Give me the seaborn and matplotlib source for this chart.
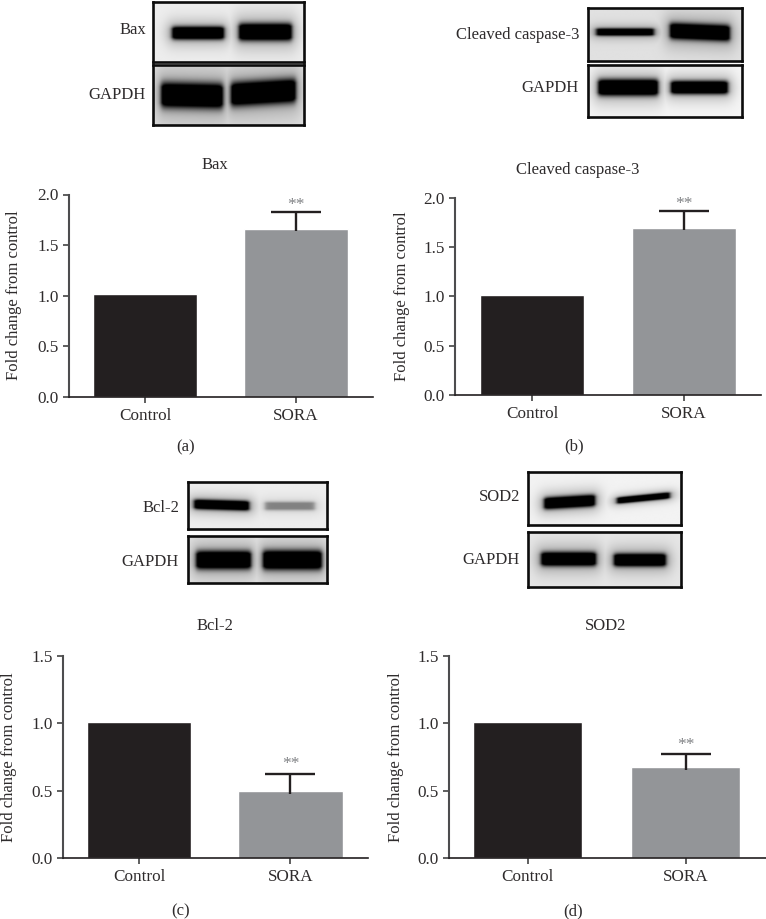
import numpy as np
import pandas as pd
import matplotlib
matplotlib.use('Agg')
import matplotlib.pyplot as plt
import seaborn as sns

W, H = 766, 919

# values
groups = ['Control', 'SORA']
bax_means = [1.015, 1.66]
bax_err = 1.825 - 1.66
caspase_means = [1.015, 1.69]
caspase_err = 1.87 - 1.69
bcl2_means = [1.01, 0.495]
bcl2_err = 0.625 - 0.495
sod2_means = [1.01, 0.672]
sod2_err = 0.77 - 0.672

ticks_high = [0.0, 0.5, 1.0, 1.5, 2.0]
ticks_low = [0.0, 0.5, 1.0, 1.5]

sns.set_style('ticks')
plt.rcParams['font.family'] = ['Liberation Serif', 'DejaVu Serif']

INK = '#2e2b2c'
BAR_COLORS = {'Control': '#231f20', 'SORA': '#939598'}


def px_axes(fig, x0, y0, x1, y1):
    # pixel box, y measured from the top of the picture
    return fig.add_axes([x0 / W, 1 - y1 / H, (x1 - x0) / W, (y1 - y0) / H])


def px_text(fig, x, y, s, size=12, **kw):
    kw.setdefault('ha', 'center')
    kw.setdefault('va', 'center')
    kw.setdefault('color', INK)
    fig.text(x / W, 1 - y / H, s, fontsize=size, **kw)


def draw_bars(fig, box, xticks_px, means, err, yticks, err_gap):
    x0, y0, x1, y1 = box
    ax = px_axes(fig, x0, y0, x1, y1)
    df = pd.DataFrame({'group': groups, 'fold': means})
    sns.barplot(data=df, x='group', y='fold', hue='group', palette=BAR_COLORS,
                order=groups, width=0.69, saturation=1, legend=False, ax=ax)
    step = xticks_px[1] - xticks_px[0]
    ax.set_xlim((x0 - xticks_px[0]) / step, (x1 - xticks_px[0]) / step)
    ax.set_ylim(0, yticks[-1])
    ax.set_yticks(yticks)
    ax.set_yticklabels(['%.1f' % t for t in yticks])
    ax.set_xlabel('')
    ax.set_ylabel('')
    ax.patch.set_alpha(0)

    eb = ax.errorbar([1], [means[1]], yerr=[[0.02], [err]], color='#231f20',
                     elinewidth=1.7, capsize=18, capthick=1.7, zorder=5)
    eb[1][0].set_visible(False)
    # stars sit just above the cap
    ax.annotate('**', (1, means[1] + err), xytext=(0, err_gap),
                textcoords='offset points', ha='center', va='center',
                fontsize=12.5, color='#808285', annotation_clip=False)

    sns.despine(ax=ax)
    ax.spines['left'].set_linewidth(1.5)
    ax.spines['left'].set_color('#4d4d4f')
    ax.spines['bottom'].set_linewidth(1.2)
    ax.spines['bottom'].set_color('#231f20')
    ax.tick_params(axis='both', length=4, width=1.1, color='#333333',
                   labelsize=12.3, labelcolor=INK)
    ax.tick_params(axis='x', pad=4)
    return ax


def draw_blot(fig, box, bands, background):
    x0, y0, x1, y1 = box
    ax = px_axes(fig, x0, y0, x1, y1)
    xs = np.arange(x0, x1 + 0.5, 0.5)
    ys = np.arange(y0, y1 + 0.5, 0.5)
    X, Y = np.meshgrid(xs, ys)
    dark = np.zeros_like(X)
    for bx0, bx1, yc, h, amp, slope in bands:
        centre = yc + slope * (X - (bx0 + bx1) / 2)
        across = 0.25 * (1 + np.tanh((X - bx0) / 2.5)) * (1 - np.tanh((X - bx1) / 2.5))
        wide = 0.25 * (1 + np.tanh((X - bx0 + 5) / 7)) * (1 - np.tanh((X - bx1 - 5) / 7))
        core = np.minimum(1, 1.5 * np.exp(-np.abs((Y - centre) / (h / 2)) ** 2.5))
        halo = np.exp(-((Y - centre) / (h * 1.15)) ** 2)
        dark = np.maximum(dark, amp * (across * core + 0.3 * wide * halo))
    img = np.clip(background * (1 - dark), 0, 1)
    ax.imshow(img, cmap='gray', vmin=0, vmax=1, aspect='auto',
              extent=[x0, x1, y1, y0], interpolation='bilinear')
    ax.set_xticks([])
    ax.set_yticks([])
    for side in ax.spines.values():
        side.set_linewidth(1.9)
        side.set_color('#0c0c0c')
    return ax


fig = plt.figure(figsize=(W / 100, H / 100), dpi=100)
fig.patch.set_facecolor('white')

# bar panels
draw_bars(fig, (69, 194.5, 373, 397), (145, 296), bax_means, bax_err, ticks_high, 5)
draw_bars(fig, (455, 198, 761, 394.7), (532, 684), caspase_means, caspase_err, ticks_high, 4.8)
draw_bars(fig, (63, 655.6, 368, 858), (139, 290.5), bcl2_means, bcl2_err, ticks_low, 7)
draw_bars(fig, (449, 655.6, 765.5, 858), (527.7, 685.7), sod2_means, sod2_err, ticks_low, 6.5)

# blots (x0, x1, y centre, height, darkness, tilt per band)
draw_blot(fig, (153, 2, 304, 62), [(172, 224, 33, 12, 1.0, 0), (239, 292, 32, 16, 1.0, 0)], 0.93)
draw_blot(fig, (153, 65, 304, 125), [(161, 223, 96, 23, 1.0, 0.02), (231, 296, 93, 22, 1.0, -0.06)], 0.88)
draw_blot(fig, (588, 8, 742, 61), [(596, 654, 32, 7, 0.9, 0), (670, 730, 32, 15, 1.0, 0.04)], 0.88)
draw_blot(fig, (588, 65, 742, 117), [(598, 658, 88, 15, 1.0, 0), (671, 728, 88, 12, 1.0, 0)], 0.96)
draw_blot(fig, (188, 482, 327, 529), [(194, 249, 505, 9, 1.0, 0.03), (265, 315, 506, 8, 0.35, 0)], 0.93)
draw_blot(fig, (188, 536, 327, 583), [(196, 251, 560, 17, 1.0, 0), (263, 322, 560, 18, 1.0, 0)], 0.9)
draw_blot(fig, (528, 472, 681, 525), [(544, 595, 502, 11, 1.0, -0.06), (617, 670, 498, 6, 0.95, -0.1)], 0.95)
draw_blot(fig, (528, 532, 681, 587), [(541, 596, 559, 13, 1.0, 0), (614, 666, 560, 12, 1.0, 0)], 0.9)

# blot labels
for x, y, s in [(146, 30, 'Bax'), (146, 95, 'GAPDH'),
                (579, 35, 'Cleaved caspase-3'), (579, 88, 'GAPDH'),
                (179, 508, 'Bcl-2'), (179, 562, 'GAPDH'),
                (520, 497, 'SOD2'), (520, 560, 'GAPDH')]:
    px_text(fig, x, y, s, ha='right')

# panel titles
for x, y, s in [(215, 165, 'Bax'), (578, 170, 'Cleaved caspase-3'),
                (215, 626, 'Bcl-2'), (606, 626, 'SOD2')]:
    px_text(fig, x, y, s)

# y axis titles
for x, y in [(14, 295), (402, 296), (9, 757), (396, 757)]:
    px_text(fig, x, y, 'Fold change from control', rotation=90)

# panel letters
for x, y, s in [(186, 447, '(a)'), (574, 446, '(b)'), (181, 911, '(c)'), (573, 911, '(d)')]:
    px_text(fig, x, y, s)

fig.savefig('out.png', dpi=100)
